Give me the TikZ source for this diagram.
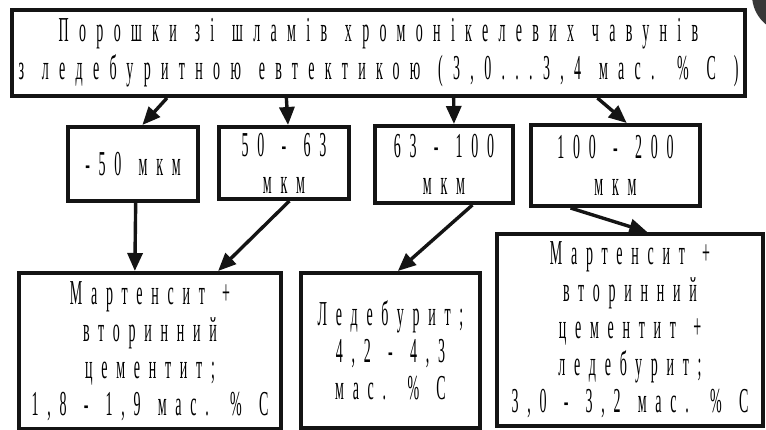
\documentclass[tikz,border=0pt]{standalone}
\usepackage{fontspec}
\usetikzlibrary{calc,arrows.meta}
% tall, narrow, widely tracked serif lettering
\newfontfamily\headfont[FakeStretch=0.4,LetterSpace=29.5]{Liberation Serif}
\newfontfamily\narrowfont[FakeStretch=0.4,LetterSpace=25]{Liberation Serif}
% extra word gaps for the heading and for the boxes
\newcommand\hg{\hspace{4pt}}
\newcommand\bg{\hspace{5pt}}

\begin{document}
\begin{tikzpicture}[x=1pt,y=-1pt,
  box/.style={draw=black!92, line width=4pt, rectangle, inner sep=0pt,
    align=center, font=\narrowfont\fontsize{35}{37}\selectfont},
  headbox/.style={box, font=\headfont\fontsize{35}{38}\selectfont},
  arr/.style={draw=black!92, line width=3.4pt, -{Triangle[length=18pt,width=15pt]}}]

\useasboundingbox (0,0) rectangle (766,430);

% dark disc in the upper right corner
\fill[black!78] (790,-5) circle (38);

% source material
\node[headbox, minimum width=733pt, minimum height=86pt] (top) at (378.5,53)
  {Порошки \hg зі \hg шламів \hg хромонікелевих \hg чавунів\\з \hg ледебуритною \hg евтектикою \hg (3,0...3,4 \hg мас. \hg \% \hg С \hg )};

% particle size fractions
\node[box, minimum width=130pt, minimum height=74pt] (f1) at (133,164) {-50 \bg мкм};
\node[box, minimum width=130pt, minimum height=72pt] (f2) at (284,163) {50 \bg - \bg 63\\мкм};
\node[box, minimum width=138pt, minimum height=77pt] (f3) at (444,164.5) {63 \bg - \bg 100\\мкм};
\node[box, minimum width=169pt, minimum height=81pt] (f4) at (615.5,165.5) {100 \bg - \bg 200\\мкм};

% resulting structures
\node[box, minimum width=262pt, minimum height=156pt] (s1) at (150,351)
  {Мартенсит \bg +\\вторинний\\цементит;\\1,8 \bg - \bg 1,9 \bg мас. \bg \% \bg С};
\node[box, minimum width=179pt, minimum height=155pt] (s2) at (390.5,350.5)
  {Ледебурит;\\4,2 \bg - \bg 4,3\\мас. \bg \% \bg С};
\node[box, minimum width=266pt, minimum height=192pt] (s3) at (630,330)
  {Мартенсит \bg +\\вторинний\\цементит \bg +\\ледебурит;\\3,0 \bg - \bg 3,2 \bg мас. \bg \% \bg С};

% source to fractions
\draw[arr] ($(top.south west)!0.213!(top.south east)$) -- ($(f1.north west)!0.57!(f1.north east)$);
\draw[arr] ($(top.south west)!0.375!(top.south east)$) -- ($(f2.north west)!0.53!(f2.north east)$);
\draw[arr] ($(top.south west)!0.602!(top.south east)$) -- ($(f3.north west)!0.57!(f3.north east)$);
\draw[arr] ($(top.south west)!0.797!(top.south east)$) -- ($(f4.north west)!0.565!(f4.north east)$);

% fractions to structures
\draw[arr] ($(f1.south west)!0.52!(f1.south east)$) -- ($(s1.north west)!0.443!(s1.north east)$);
\draw[arr] ($(f2.south west)!0.54!(f2.south east)$) -- ($(s1.north west)!0.756!(s1.north east)$);
\draw[arr] ($(f3.south west)!0.70!(f3.south east)$) -- ($(s2.north west)!0.54!(s2.north east)$);
\draw[arr] ($(f4.south west)!0.24!(f4.south east)$) -- ($(s3.north west)!0.564!(s3.north east)$);
\end{tikzpicture}
\end{document}
